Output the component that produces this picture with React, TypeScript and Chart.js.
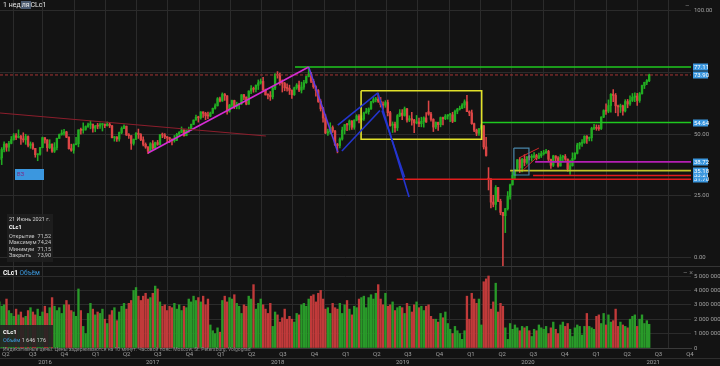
import React, { useEffect, useRef } from "react";
import { Chart, registerables } from "chart.js";

Chart.register(...registerables);
Chart.defaults.font.family = "Roboto, 'Liberation Sans', sans-serif";

// ---- time frame -------------------------------------------------------
const FIRST_WEEK = "2016-04-11"; // Monday of the first weekly candle
const AXIS_START = "2016-04-13";
const AXIS_END = "2021-10-21";

// ---- weekly OHLC of CLc1 (one value per week, from FIRST_WEEK) ---------
const opens = [
  // 2016
  39.72, 40.36, 43.73, 45.92, 44.66, 46.21, 47.75, 49.33, 48.62, 49.07, 47.98, 47.64, 48.99, 45.41, 45.95, 44.19, 41.6, 41.8, 44.49, 48.52, 47.64, 44.44, 45.88, 43.03, 44.48, 48.24, 49.81, 50.35, 50.85, 48.7, 44.07, 43.41, 45.69, 46.06, 51.68, 51.5, 51.9, 53.02,
  // 2017
  53.72, 53.99, 52.37, 53.22, 53.17, 53.83, 53.86, 53.4, 53.99, 53.33, 48.49, 48.78, 47.97, 50.6, 52.24, 53.18, 49.62, 49.33, 46.22, 47.84, 50.33, 49.8, 47.66, 45.83, 44.74, 43.01, 46.04, 44.23, 46.54, 45.77, 49.71, 49.58, 48.82, 48.51, 47.87, 47.29, 47.48, 49.89, 50.66, 51.67, 49.29, 51.45, 51.47, 53.9, 55.64, 56.74, 56.55, 58.95, 58.36, 57.36, 57.3, 58.47,
  // 2018
  60.42, 61.44, 64.3, 63.37, 66.14, 65.45, 59.2, 61.68, 63.55, 61.25, 62.04, 62.34, 65.88, 64.94, 62.06, 67.39, 68.38, 68.1, 69.72, 70.7, 71.28, 67.88, 65.81, 65.74, 65.06, 68.58, 74.15, 73.8, 71.01, 70.46, 68.69, 68.49, 67.63, 65.91, 68.72, 69.8, 67.75, 68.99, 70.78, 73.25, 74.34, 71.34, 69.12, 67.59, 63.14, 60.19, 56.46, 50.42, 50.93, 52.61, 51.2, 45.59,
  // 2019
  45.33, 47.96, 51.59, 53.8, 53.69, 55.26, 52.72, 55.59, 57.26, 55.8, 56.07, 58.52, 59.04, 60.14, 63.08, 63.89, 64.0, 63.3, 61.94, 61.66, 62.76, 58.63, 53.5, 53.99, 52.51, 57.43, 58.47, 57.51, 60.21, 55.63, 56.2, 55.66, 54.5, 54.87, 54.17, 55.1, 56.52, 59.0, 58.09, 55.91, 52.81, 54.7, 53.78, 56.66, 56.2, 57.24, 57.72, 57.77, 55.17, 59.2, 60.07, 60.44,
  // 2020
  61.72, 63.05, 59.04, 58.54, 54.19, 51.56, 50.32, 52.05, 53.38, 44.76, 32.0, 31.73, 22.43, 21.51, 28.34, 22.76, 18.27, 16.94, 19.78, 24.74, 29.43, 33.25, 35.49, 39.55, 36.26, 39.75, 38.49, 40.65, 40.55, 40.59, 41.29, 40.27, 41.22, 42.01, 42.34, 42.97, 39.77, 37.33, 41.11, 40.25, 37.05, 40.6, 40.88, 39.85, 35.79, 37.14, 40.13, 42.15, 45.53, 46.26, 46.57, 49.1, 48.23,
  // 2021
  48.52, 52.24, 52.36, 52.27, 52.2, 56.85, 59.47, 59.24, 61.5, 66.09, 65.61, 61.42, 60.97, 61.45, 59.32, 63.13, 62.14, 63.58, 64.9, 65.37, 63.58, 66.32, 69.62, 70.91, 71.52,
];
const highs = [
  42.4, 44.5, 46.8, 46.1, 47.0, 49.0, 50.2, 50.2, 51.67, 49.5, 50.5, 49.9, 49.3, 46.8, 46.5, 44.2, 42.0, 44.6, 48.75, 48.6, 47.7, 47.7, 46.0, 46.5, 48.3, 50.0, 51.6, 51.9, 51.1, 48.9, 45.9, 46.0, 48.7, 51.7, 52.4, 54.5, 53.3, 54.4,
  55.24, 54.0, 53.5, 54.3, 54.4, 54.2, 54.1, 54.9, 54.6, 53.5, 49.0, 49.0, 50.8, 52.9, 53.76, 53.2, 50.2, 49.4, 48.0, 50.6, 52.0, 50.2, 48.9, 46.4, 44.9, 46.5, 47.3, 46.7, 47.4, 49.8, 50.4, 50.2, 49.0, 48.7, 48.0, 49.4, 50.3, 51.0, 52.86, 51.7, 51.6, 52.8, 54.0, 55.7, 57.69, 57.2, 59.05, 59.0, 58.8, 58.9, 58.9, 60.5,
  62.2, 64.77, 64.9, 66.66, 66.4, 65.6, 62.0, 63.7, 63.7, 62.9, 62.4, 66.0, 66.1, 65.0, 67.5, 69.56, 69.0, 69.9, 71.89, 72.3, 72.9, 68.2, 66.3, 67.2, 69.0, 74.46, 75.27, 74.7, 71.9, 70.9, 70.3, 69.8, 67.9, 69.0, 70.4, 71.4, 71.0, 71.7, 73.5, 76.9, 75.0, 72.1, 69.5, 68.0, 63.9, 60.8, 57.8, 52.0, 54.55, 53.3, 51.5, 46.2,
  48.4, 52.8, 53.9, 54.3, 55.7, 55.4, 55.8, 57.8, 57.9, 57.4, 58.9, 60.4, 60.6, 63.2, 64.8, 64.8, 66.6, 64.8, 63.0, 63.5, 63.7, 59.2, 54.9, 54.8, 57.9, 59.9, 59.9, 60.94, 60.4, 57.4, 58.8, 55.9, 57.5, 56.4, 56.8, 57.0, 58.7, 63.38, 58.8, 56.2, 54.9, 54.8, 56.9, 56.9, 57.9, 57.9, 58.4, 58.8, 59.7, 60.4, 61.3, 62.3,
  63.84, 65.65, 59.4, 59.7, 54.4, 52.0, 52.3, 54.0, 53.4, 48.7, 36.4, 32.0, 25.2, 29.13, 28.36, 23.6, 18.3, 19.9, 26.7, 29.7, 34.7, 35.5, 39.69, 40.44, 40.2, 41.6, 41.0, 41.3, 41.7, 42.5, 41.8, 42.3, 43.0, 43.4, 43.8, 43.4, 39.8, 41.4, 41.2, 40.9, 41.6, 41.4, 41.7, 39.9, 39.4, 42.4, 42.5, 46.26, 46.6, 47.74, 49.3, 49.4, 48.8,
  52.75, 53.93, 53.7, 53.6, 57.0, 59.82, 62.26, 63.81, 66.4, 67.98, 66.4, 61.7, 62.1, 61.7, 63.9, 64.0, 65.47, 66.4, 66.7, 66.5, 66.8, 69.76, 71.0, 72.0, 74.24,
];
const lows = [
  39.5, 37.6, 42.7, 43.0, 43.0, 46.0, 47.5, 47.7, 48.4, 45.8, 46.7, 45.8, 44.8, 44.2, 43.8, 40.6, 39.19, 41.4, 44.4, 46.3, 43.0, 44.1, 42.5, 42.5, 43.6, 48.2, 49.5, 49.5, 48.5, 43.9, 43.0, 42.2, 45.6, 44.8, 49.9, 50.3, 51.5, 52.7,
  52.1, 50.7, 50.9, 52.1, 52.3, 51.2, 52.6, 53.2, 52.6, 48.4, 47.1, 47.0, 47.1, 50.1, 52.2, 49.4, 48.2, 43.76, 45.5, 47.7, 48.2, 47.3, 45.2, 44.2, 42.05, 42.9, 43.8, 43.7, 45.4, 45.5, 48.5, 48.1, 46.5, 46.5, 45.6, 46.7, 47.3, 49.4, 50.5, 49.1, 49.3, 50.6, 51.3, 53.8, 55.6, 54.8, 56.0, 56.7, 55.8, 56.2, 57.0, 58.3,
  60.1, 61.3, 63.0, 63.2, 63.6, 58.07, 58.8, 60.9, 60.3, 60.2, 60.2, 61.9, 63.9, 61.8, 62.0, 66.3, 66.9, 67.0, 68.0, 70.2, 67.5, 65.8, 64.2, 63.6, 64.2, 67.9, 72.6, 69.8, 67.0, 67.5, 67.3, 66.0, 64.4, 65.6, 68.1, 67.1, 66.6, 68.0, 70.5, 73.1, 70.8, 68.5, 65.3, 62.8, 59.3, 54.75, 50.15, 49.4, 50.1, 50.6, 45.4, 42.36,
  44.4, 47.5, 50.0, 51.3, 51.6, 51.9, 51.9, 55.3, 54.5, 55.2, 55.5, 58.4, 58.0, 60.0, 62.6, 63.0, 62.8, 60.9, 60.0, 60.8, 57.3, 53.2, 50.6, 50.7, 51.4, 57.0, 55.8, 57.2, 54.8, 55.0, 53.6, 50.52, 54.1, 53.0, 52.9, 52.8, 54.7, 57.6, 55.2, 50.99, 52.1, 51.4, 52.9, 53.7, 55.8, 56.0, 55.0, 54.6, 55.0, 58.2, 59.7, 60.3,
  60.6, 59.0, 57.4, 53.9, 50.9, 49.31, 49.4, 51.6, 43.9, 41.05, 27.34, 20.06, 20.5, 19.27, 22.6, 17.3, -40.32, 10.07, 19.2, 23.6, 29.3, 31.6, 35.1, 34.4, 34.6, 37.1, 37.8, 39.5, 39.0, 40.2, 39.5, 40.0, 40.5, 41.5, 42.1, 39.2, 36.1, 36.8, 38.6, 36.6, 37.0, 39.0, 39.3, 34.92, 33.64, 37.0, 39.7, 41.9, 43.9, 45.0, 46.2, 46.15, 47.2,
  47.18, 51.8, 51.5, 51.4, 51.8, 56.6, 57.9, 58.6, 58.8, 63.1, 58.6, 57.3, 58.7, 57.6, 58.9, 60.6, 61.6, 63.1, 63.1, 61.56, 62.8, 66.1, 68.4, 70.0, 71.15,
];
const closes = [
  40.36, 43.73, 45.92, 44.66, 46.21, 47.75, 49.33, 48.62, 49.07, 47.98, 47.64, 48.99, 45.41, 45.95, 44.19, 41.6, 41.8, 44.49, 48.52, 47.64, 44.44, 45.88, 43.03, 44.48, 48.24, 49.81, 50.35, 50.85, 48.7, 44.07, 43.41, 45.69, 46.06, 51.68, 51.5, 51.9, 53.02, 53.72,
  53.99, 52.37, 53.22, 53.17, 53.83, 53.86, 53.4, 53.99, 53.33, 48.49, 48.78, 47.97, 50.6, 52.24, 53.18, 49.62, 49.33, 46.22, 47.84, 50.33, 49.8, 47.66, 45.83, 44.74, 43.01, 46.04, 44.23, 46.54, 45.77, 49.71, 49.58, 48.82, 48.51, 47.87, 47.29, 47.48, 49.89, 50.66, 51.67, 49.29, 51.45, 51.47, 53.9, 55.64, 56.74, 56.55, 58.95, 58.36, 57.36, 57.3, 58.47, 60.42,
  61.44, 64.3, 63.37, 66.14, 65.45, 59.2, 61.68, 63.55, 61.25, 62.04, 62.34, 65.88, 64.94, 62.06, 67.39, 68.38, 68.1, 69.72, 70.7, 71.28, 67.88, 65.81, 65.74, 65.06, 68.58, 74.15, 73.8, 71.01, 70.46, 68.69, 68.49, 67.63, 65.91, 68.72, 69.8, 67.75, 68.99, 70.78, 73.25, 74.34, 71.34, 69.12, 67.59, 63.14, 60.19, 56.46, 50.42, 50.93, 52.61, 51.2, 45.59, 45.33,
  47.96, 51.59, 53.8, 53.69, 55.26, 52.72, 55.59, 57.26, 55.8, 56.07, 58.52, 59.04, 60.14, 63.08, 63.89, 64.0, 63.3, 61.94, 61.66, 62.76, 58.63, 53.5, 53.99, 52.51, 57.43, 58.47, 57.51, 60.21, 55.63, 56.2, 55.66, 54.5, 54.87, 54.17, 55.1, 56.52, 54.85, 58.09, 55.91, 52.81, 54.7, 53.78, 56.66, 56.2, 57.24, 57.72, 57.77, 55.17, 59.2, 60.07, 60.44, 61.72,
  63.05, 59.04, 58.54, 54.19, 51.56, 50.32, 52.05, 53.38, 44.76, 41.28, 31.73, 22.43, 21.51, 28.34, 22.76, 18.27, 16.94, 19.78, 24.74, 29.43, 33.25, 35.49, 39.55, 36.26, 39.75, 38.49, 40.65, 40.55, 40.59, 41.29, 40.27, 41.22, 42.01, 42.34, 42.97, 39.77, 37.33, 41.11, 40.25, 37.05, 40.6, 40.88, 39.85, 35.79, 37.14, 40.13, 42.15, 45.53, 46.26, 46.57, 49.1, 48.23, 48.52,
  52.24, 52.36, 52.27, 52.2, 56.85, 59.47, 59.24, 61.5, 66.09, 65.61, 61.42, 60.97, 61.45, 59.32, 63.13, 62.14, 63.58, 64.9, 65.37, 63.58, 66.32, 69.62, 70.91, 71.64, 73.9,
];
// weekly volume, millions of contracts
const volumesMln = [
  3.2, 2.9, 3.0, 3.4, 2.6, 2.4, 2.2, 2.7, 2.3, 2.5, 2.1, 2.2, 2.6, 2.8, 2.5, 2.3, 2.7, 2.2, 2.5, 2.9, 2.4, 2.8, 3.5, 2.9, 2.6, 2.8, 2.4, 3.0, 3.3, 3.0, 2.6, 2.5, 2.2, 4.1, 2.6, 1.5, 1.0, 2.4,
  3.1, 2.7, 2.3, 2.5, 2.4, 2.7, 2.0, 1.7, 2.3, 2.6, 2.8, 1.9, 2.5, 2.9, 3.1, 2.7, 3.1, 3.3, 4.0, 4.2, 3.6, 3.3, 3.6, 3.8, 3.4, 3.5, 3.8, 4.3, 4.1, 3.2, 2.9, 3.0, 2.6, 2.9, 2.8, 3.1, 2.7, 3.0, 2.6, 2.9, 2.8, 3.4, 3.2, 3.6, 3.3, 3.5, 3.2, 3.6, 3.0, 3.4, 1.6, 1.2,
  1.0, 1.4, 1.1, 3.3, 3.6, 3.2, 3.5, 3.4, 3.7, 3.1, 2.9, 2.4, 3.0, 2.9, 3.6, 3.4, 4.4, 2.7, 3.1, 3.4, 3.0, 2.7, 2.4, 3.1, 1.5, 2.5, 2.3, 1.8, 2.1, 2.7, 2.0, 2.2, 2.0, 1.8, 2.4, 2.3, 3.0, 3.1, 2.9, 3.4, 3.6, 3.7, 3.2, 3.8, 4.0, 3.4, 2.7, 2.8, 2.4, 3.1, 2.8, 2.7,
  3.1, 2.4, 3.0, 3.3, 2.7, 2.3, 2.9, 2.8, 3.4, 3.5, 3.6, 2.8, 3.5, 3.7, 3.4, 3.8, 4.4, 3.4, 3.0, 3.8, 2.9, 3.0, 3.2, 2.6, 2.8, 2.9, 2.8, 2.4, 3.1, 2.9, 2.5, 3.0, 3.2, 2.8, 2.9, 2.6, 2.9, 3.0, 2.2, 2.0, 2.0, 1.8, 2.4, 2.1, 2.5, 1.7, 1.3, 1.0, 1.5, 1.2, 1.0, 0.6,
  1.2, 3.6, 2.0, 3.8, 3.4, 3.1, 3.4, 1.6, 4.6, 4.8, 5.0, 2.7, 3.2, 4.5, 2.5, 3.1, 2.9, 1.4, 0.6, 1.7, 1.3, 1.6, 1.4, 1.2, 1.5, 1.4, 1.5, 1.2, 0.8, 1.3, 1.2, 1.6, 1.4, 1.3, 1.5, 1.0, 1.4, 1.8, 1.3, 1.0, 1.6, 1.8, 1.5, 1.7, 1.3, 0.8, 1.4, 1.6, 1.5, 0.9, 1.5, 2.4, 1.5,
  1.4, 1.3, 2.2, 2.3, 1.7, 2.4, 1.6, 2.3, 1.8, 1.9, 2.7, 1.5, 1.8, 1.6, 1.5, 1.4, 2.0, 2.2, 2.3, 1.5, 2.0, 2.3, 1.7, 1.9, 1.646176,
];

// ---- axes -------------------------------------------------------------
const quarterNames = ["Q1", "Q2", "Q3", "Q4"];
const yearLabels = [2016, 2017, 2018, 2019, 2020, 2021];
const priceTicks = [0, 25, 50, 75, 100];
const hiddenPriceLabels = [75];
const priceMin = -3.44;
const priceMax = 104.25;
const volumeTicks = [0, 1, 2, 3, 4, 5];
const volumeMax = 5.625;

// ---- drawings on the price panel ---------------------------------------
const lastPrice = 73.9;
const levelLines = [
  { from: "2018-08-22", price: 77.11, color: "#1fc81f" },
  { from: "2020-02-18", price: 54.64, color: "#1fc81f" },
  { from: "2019-06-15", price: 31.7, color: "#e21c1c" },
  { from: "2020-07-17", price: 33.21, color: "#e21c1c" },
  { from: "2020-05-11", price: 35.18, color: "#c3c32a" },
  { from: "2020-07-23", price: 38.72, color: "#b41fb4" },
];
const trendLines: { pts: [string, number][]; color: string; width: number }[] = [
  { pts: [["2016-04-13", 58.5], ["2018-05-29", 49.2]], color: "#8c1e2c", width: 1.2 },
  { pts: [["2017-06-19", 42.3], ["2018-10-01", 77.1]], color: "#d42cd4", width: 1.6 },
  { pts: [["2018-10-01", 77.1], ["2018-12-25", 42.7]], color: "#5a3ce0", width: 1.6 },
  { pts: [["2018-12-25", 53.6], ["2019-04-21", 66.6]], color: "#2435d0", width: 1.6 },
  { pts: [["2019-01-06", 43.1], ["2019-04-27", 59.5]], color: "#2435d0", width: 1.6 },
  { pts: [["2019-04-21", 66.6], ["2019-07-21", 24.5]], color: "#2435d0", width: 1.6 },
  { pts: [["2019-05-03", 59.5], ["2019-07-08", 32.5]], color: "#2435d0", width: 1.6 },
  { pts: [["2019-03-03", 67.5], ["2020-02-18", 67.5], ["2020-02-18", 47.9], ["2019-03-03", 47.9], ["2019-03-03", 67.5]], color: "#e1e12a", width: 1.6 },
  { pts: [["2020-05-22", 44.3], ["2020-07-05", 44.3], ["2020-07-05", 33.4], ["2020-05-22", 33.4], ["2020-05-22", 44.3]], color: "#4a87aa", width: 1.2 },
  { pts: [["2020-06-06", 40.3], ["2020-08-03", 44.3]], color: "#d02a2a", width: 1 },
  { pts: [["2020-06-18", 35.4], ["2020-07-29", 40.7]], color: "#d02a2a", width: 1 },
];
const priceTags = [31.7, 33.21, 35.18, 38.72, 54.64, 73.9, 77.11];

// ---- helpers --------------------------------------------------------
const dayNum = (s: string) => {
  const [y, m, d] = s.split("-").map(Number);
  return Date.UTC(y, m - 1, d) / 864e5;
};
const XMIN = dayNum(AXIS_START);
const XMAX = dayNum(AXIS_END);
const weekX = (i: number) => dayNum(FIRST_WEEK) + 7 * i;
const fmtSpaces = (n: number) => String(Math.round(n)).replace(/\B(?=(\d{3})+(?!\d))/g, " ");

const quarterTicks = () => {
  const out: { value: number; label: string }[] = [{ value: XMIN, label: "Q2" }];
  for (let y = 2016; y <= 2021; y++) {
    for (let q = 0; q < 4; q++) {
      const v = Date.UTC(y, q * 3, 1) / 864e5;
      if (v > XMIN && v <= XMAX) out.push({ value: v, label: quarterNames[q] });
    }
  }
  return out;
};

const GRID = "#2b2b2b";
const AXIS_TXT = "#a0a0a0";
const GREEN = "#22ad22";
const RED = "#dc4646";
const VGREEN = "#299a29";
const VRED = "#c13a3a";

const bgPlugin = {
  id: "bg",
  beforeDraw(chart: any) {
    const { ctx, width, height } = chart;
    ctx.save();
    ctx.fillStyle = "#131313";
    ctx.fillRect(0, 0, width, height);
    ctx.restore();
  },
};

const tagPlugin = {
  id: "priceTags",
  afterDraw(chart: any) {
    const { ctx, chartArea, scales } = chart;
    const y = scales.y;
    ctx.save();
    ctx.font = "6px Roboto, sans-serif";
    ctx.textBaseline = "middle";
    for (const v of priceTags) {
      const py = Math.round(y.getPixelForValue(v));
      ctx.fillStyle = "#3b97df";
      ctx.fillRect(chartArea.right + 2, py - 3.5, 15, 7);
      ctx.fillStyle = "#ffffff";
      ctx.fillText(v.toFixed(2), chartArea.right + 3, py + 0.5);
    }
    ctx.restore();
  },
};

export default function App() {
  const priceRef = useRef<HTMLCanvasElement>(null);
  const volRef = useRef<HTMLCanvasElement>(null);

  useEffect(() => {
    document.body.style.margin = "0";
    document.body.style.background = "#131313";
    const n = Math.min(opens.length, highs.length, lows.length, closes.length);
    const wickUp: any[] = [], wickDn: any[] = [], bodyUp: any[] = [], bodyDn: any[] = [];
    for (let i = 0; i < n; i++) {
      const x = weekX(i);
      const up = closes[i] >= opens[i];
      (up ? wickUp : wickDn).push({ x, y: [lows[i], highs[i]] });
      (up ? bodyUp : bodyDn).push({ x, y: [Math.min(opens[i], closes[i]), Math.max(opens[i], closes[i])] });
    }
    const lineDs = (pts: [number, number][], color: string, width: number, dash: number[] = []) => ({
      type: "line",
      data: pts.map(([x, y]) => ({ x, y })),
      borderColor: color,
      borderWidth: width,
      borderDash: dash,
      pointRadius: 0,
      fill: false,
      tension: 0,
      order: 0,
      clip: 0,
    });
    const lines: any[] = [];
    for (const t of trendLines) lines.push(lineDs(t.pts.map(([d, p]) => [dayNum(d), p]), t.color, t.width));
    for (const l of levelLines) lines.push(lineDs([[dayNum(l.from), l.price], [XMAX, l.price]], l.color, 1.6));
    lines.push(lineDs([[XMIN, lastPrice], [XMAX, lastPrice]], "#a83434", 1, [3, 2]));

    const barDs = (data: any[], color: string, thickness: number, minLen = 0) => ({
      type: "bar",
      data,
      backgroundColor: color,
      borderWidth: 0,
      barThickness: thickness,
      minBarLength: minLen,
      grouped: false,
      order: 5,
      clip: 0,
    });

    const xTicks = quarterTicks();

    const price = new Chart(priceRef.current!, {
      type: "bar",
      data: {
        datasets: [
          barDs(wickUp, GREEN, 0.9),
          barDs(wickDn, RED, 0.9),
          barDs(bodyUp, GREEN, 1.7, 1),
          barDs(bodyDn, RED, 1.7, 1),
          ...lines,
        ] as any,
      },
      options: {
        animation: false,
        responsive: false,
        events: [],
        layout: { padding: 0 },
        plugins: { legend: { display: false }, tooltip: { enabled: false } },
        scales: {
          x: {
            type: "linear",
            min: XMIN,
            max: XMAX,
            offset: false,
            grid: { color: GRID, drawTicks: false },
            border: { display: false },
            ticks: { display: false },
            afterBuildTicks: (s: any) => {
              s.ticks = xTicks.map((t) => ({ value: t.value }));
            },
            afterFit: (s: any) => {
              s.height = 0;
              s.paddingLeft = 0;
              s.paddingRight = 0;
            },
          },
          y: {
            type: "linear",
            position: "right",
            min: priceMin,
            max: priceMax,
            grid: { color: GRID, drawTicks: false },
            border: { display: false },
            ticks: {
              color: AXIS_TXT,
              font: { size: 6 },
              padding: 3,
              callback: (v: any) => (hiddenPriceLabels.includes(Number(v)) ? "" : Number(v).toFixed(2)),
            },
            afterBuildTicks: (s: any) => {
              s.ticks = priceTicks.map((v) => ({ value: v }));
            },
            afterFit: (s: any) => {
              s.width = 29;
              s.paddingTop = 0;
              s.paddingBottom = 0;
            },
          },
        },
      } as any,
      plugins: [bgPlugin, tagPlugin],
    });

    const nv = Math.min(volumesMln.length, n);
    const vUp: any[] = [], vDn: any[] = [];
    for (let i = 0; i < nv; i++) {
      (closes[i] >= opens[i] ? vUp : vDn).push({ x: weekX(i), y: volumesMln[i] });
    }
    const XEDGE = XMAX + (XMAX - XMIN) * (29 / 691);
    const yearTicks = yearLabels.map((yr) => {
      const a = Math.max(Date.UTC(yr, 0, 1) / 864e5, XMIN);
      const b = Math.min(Date.UTC(yr + 1, 0, 1) / 864e5, XEDGE);
      return { value: (a + b) / 2, label: String(yr) };
    });

    const yearPlugin = {
      id: "years",
      afterDraw(chart: any) {
        const { ctx, scales, chartArea } = chart;
        const xs = scales.x;
        ctx.save();
        ctx.strokeStyle = "#2e2e2e";
        ctx.lineWidth = 1;
        ctx.beginPath();
        ctx.moveTo(0, chartArea.bottom + 10.5);
        ctx.lineTo(chart.width, chartArea.bottom + 10.5);
        ctx.stroke();
        ctx.fillStyle = AXIS_TXT;
        ctx.font = "6px Roboto, sans-serif";
        ctx.textAlign = "center";
        ctx.textBaseline = "middle";
        for (const t of yearTicks) {
          ctx.fillText(t.label, xs.getPixelForValue(t.value), chartArea.bottom + 14.5);
        }
        ctx.restore();
      },
    };

    const vol = new Chart(volRef.current!, {
      type: "bar",
      data: {
        datasets: [barDs(vUp, VGREEN, 1.7), barDs(vDn, VRED, 1.7)] as any,
      },
      options: {
        animation: false,
        responsive: false,
        events: [],
        layout: { padding: { top: 1, left: 0, right: 0, bottom: 0 } },
        plugins: { legend: { display: false }, tooltip: { enabled: false } },
        scales: {
          x: {
            type: "linear",
            position: "bottom",
            min: XMIN,
            max: XMAX,
            offset: false,
            grid: { color: GRID, drawTicks: false },
            border: { display: true, color: "#3a3a3a" },
            ticks: {
              color: AXIS_TXT,
              font: { size: 6 },
              padding: 3,
              align: "start",
              labelOffset: 2,
              maxRotation: 0,
              autoSkip: false,
              callback: (_v: any, i: number) => xTicks[i]?.label ?? "",
            },
            afterBuildTicks: (s: any) => {
              s.ticks = xTicks.map((t) => ({ value: t.value }));
            },
            afterFit: (s: any) => {
              s.height = 18;
              s.paddingLeft = 0;
              s.paddingRight = 0;
            },
          },
          y: {
            type: "linear",
            position: "right",
            min: 0,
            max: volumeMax,
            grid: { color: GRID, drawTicks: false },
            border: { display: false },
            ticks: {
              color: AXIS_TXT,
              font: { size: 6 },
              padding: 3,
              callback: (v: any) => fmtSpaces(Number(v) * 1e6),
            },
            afterBuildTicks: (s: any) => {
              s.ticks = volumeTicks.map((v) => ({ value: v }));
            },
            afterFit: (s: any) => {
              s.width = 29;
              s.paddingTop = 0;
              s.paddingBottom = 0;
            },
          },
        },
      } as any,
      plugins: [bgPlugin, yearPlugin],
    });

    return () => {
      price.destroy();
      vol.destroy();
    };
  }, []);

  const last = Math.min(opens.length, closes.length) - 1;
  const fmtRu = (v: number) => v.toFixed(2).replace(".", ",");
  const txt: React.CSSProperties = { position: "absolute", whiteSpace: "nowrap", lineHeight: 1 };
  const rows: [string, number][] = [
    ["Открытие", opens[last]],
    ["Максимум", highs[last]],
    ["Минимум", lows[last]],
    ["Закрыть", closes[last]],
  ];

  return (
    <div
      style={{
        position: "absolute",
        left: 0,
        top: 0,
        width: 720,
        height: 366,
        background: "#131313",
        overflow: "hidden",
        fontFamily: "Roboto, 'Liberation Sans', sans-serif",
        color: "#e0e0e0",
      }}
    >
      <canvas ref={priceRef} width={720} height={266} style={{ position: "absolute", left: 0, top: 0 }} />
      <canvas ref={volRef} width={720} height={100} style={{ position: "absolute", left: 0, top: 266 }} />
      <div style={{ position: "absolute", left: 0, top: 266, width: 720, height: 1, background: "#353535" }} />

      {/* header */}
      <div style={{ ...txt, left: 3, top: 2, fontSize: 7, color: "#e6e6e6" }}>
        1 нед<span style={{ background: "#4b5a70", padding: "0 1px" }}>ля</span>CLc1
      </div>
      <div style={{ ...txt, left: 685, top: 3, fontSize: 7, color: "#777" }}>–</div>

      {/* label box on the left */}
      <div style={{ position: "absolute", left: 15, top: 169, width: 29, height: 11, background: "#3b97df" }}>
        <div style={{ ...txt, left: 2, top: 2, fontSize: 6, color: "#7a2f8a" }}>ВЗ</div>
      </div>

      {/* hover info box */}
      <div style={{ position: "absolute", left: 7, top: 214, width: 46, height: 48, background: "rgba(32,32,32,0.85)" }}>
        <div style={{ ...txt, left: 2, top: 3, fontSize: 5.5, color: "#cfcfcf" }}>21 Июнь 2021 г.</div>
        <div style={{ ...txt, left: 2, top: 11, fontSize: 5.5, color: "#ffffff", fontWeight: 700 }}>CLc1</div>
        {rows.map(([k, v], i) => (
          <React.Fragment key={k}>
            <div style={{ ...txt, left: 2, top: 20 + i * 6.3, fontSize: 5.5, color: "#c8c8c8" }}>{k}</div>
            <div style={{ ...txt, right: 2, top: 20 + i * 6.3, fontSize: 5.5, color: "#c8c8c8" }}>{fmtRu(v)}</div>
          </React.Fragment>
        ))}
      </div>

      {/* volume panel labels */}
      <div style={{ ...txt, left: 3, top: 270, fontSize: 6.5 }}>
        <span style={{ color: "#ffffff", fontWeight: 700 }}>CLc1</span>{" "}
        <span style={{ color: "#3d9be0" }}>Объём</span>
      </div>
      <div style={{ ...txt, left: 683, top: 270, fontSize: 7, color: "#777" }}>– ×</div>
      <div style={{ position: "absolute", left: 0, top: 325, width: 53, height: 22, background: "rgba(34,34,34,0.9)" }}>
        <div style={{ ...txt, left: 3, top: 4, fontSize: 6, color: "#ffffff", fontWeight: 700 }}>CLc1</div>
        <div style={{ ...txt, left: 3, top: 13, fontSize: 5.5 }}>
          <span style={{ color: "#3d9be0" }}>Объём</span>{" "}
          <span style={{ color: "#cfcfcf" }}>{fmtSpaces(volumesMln[volumesMln.length - 1] * 1e6)}</span>
        </div>
      </div>
      <div style={{ ...txt, left: 3, top: 347, fontSize: 5, color: "#8c8c8c" }}>
        Индикативные цены. Цены задерживаются на 10 минут. Часовой пояс: Moscow, St. Petersburg, Volgograd
      </div>
    </div>
  );
}
